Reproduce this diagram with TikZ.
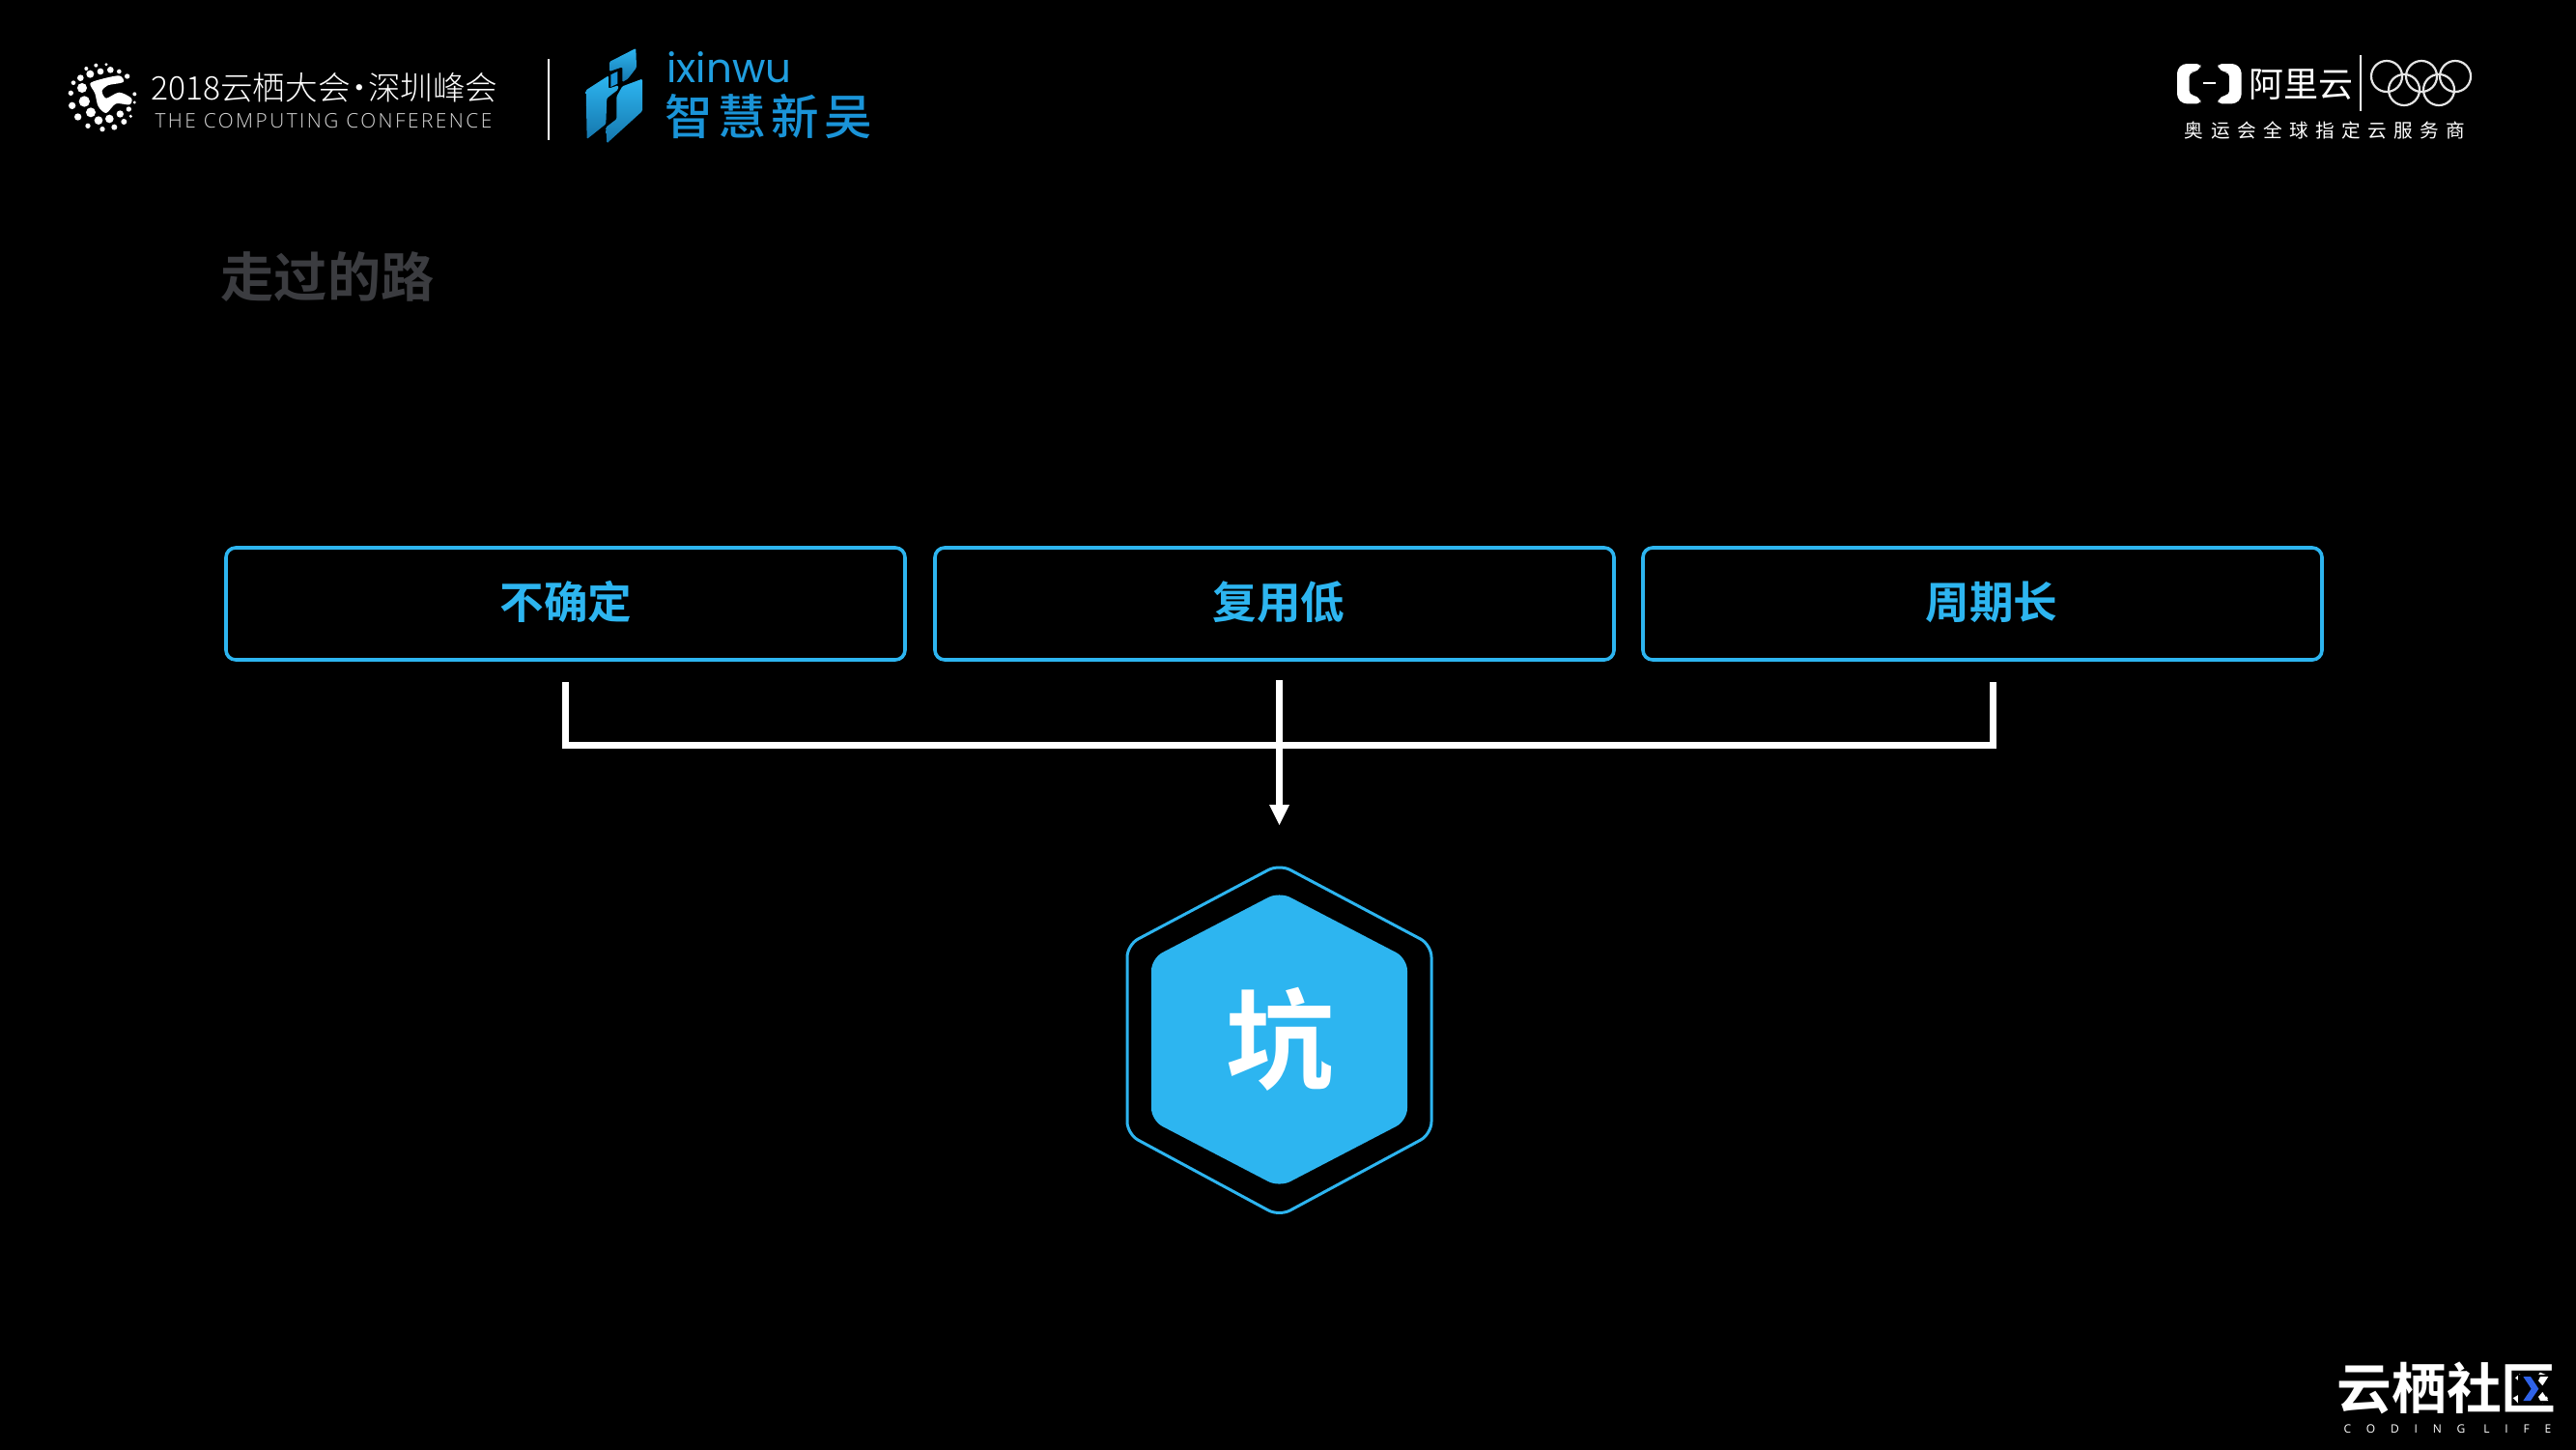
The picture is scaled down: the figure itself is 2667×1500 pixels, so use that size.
\documentclass[tikz,border=0pt]{standalone}
\usepackage{fontspec}
\setmainfont{Noto Sans CJK SC}
\newfontfamily\pLight{Noto Sans CJK SC Light}
\newfontfamily\pMedium{Noto Sans CJK SC Medium}
\newfontfamily\pBold{Noto Sans CJK SC Bold}
\newfontfamily\pLatin{Open Sans Light}
\newfontfamily\pPlain{Open Sans}
\newfontfamily\pGeo{Poppins}
\definecolor{pBlue}{HTML}{2DB5F0}
\definecolor{pDeep}{HTML}{1A94D8}
\definecolor{pChevron}{HTML}{2F62E8}
\definecolor{pTitle}{HTML}{3B3C40}
\tikzset{
  pBox/.style={draw=pBlue, line width=0.9pt, rounded corners=2.5pt},
  pLine/.style={draw=white, line width=1.75pt},
  pLabel/.style={inner sep=0pt, text=pBlue, font=\pBold\fontsize{11.4}{11.4}\selectfont},
  pText/.style={inner sep=0pt, text=white},
  pShard/.style={top color=#1, bottom color=pDeep!80!black, rounded corners=0.3pt},
  pZoom/.style={x=0.08333pt, y=-0.08333pt},
}
\begin{document}
\begin{tikzpicture}[x=0.25pt,y=-0.25pt]
\useasboundingbox (0,0) rectangle (2667,1500);
\fill[black] (-5,-5) rectangle (2672,1505);
% title
\node[inner sep=0pt, text=pTitle, font=\pBold\fontsize{13.8}{13.8}\selectfont] (title) at (339,287) {走过的路};
% three boxes
\draw[pBox] (234,567) rectangle (937,683);
\draw[pBox] (968,567) rectangle (1671,683);
\draw[pBox] (1701,567) rectangle (2404,683);
\node[pLabel] (boxA) at (586,623) {不确定};
\node[pLabel] (boxB) at (1324,623) {复用低};
\node[pLabel] (boxC) at (2062,623) {周期长};
% connectors
\coordinate (startA) at (585,706);
\coordinate (startB) at (1324.5,704);
\coordinate (startC) at (2063,706);
\coordinate (joinA) at (585,771);
\coordinate (joinC) at (2063,771);
\coordinate (arrowEnd) at (1324.5,854);
\draw[pLine] (startA) -- (joinA) -- (joinC) -- (startC);
\draw[pLine] (startB) -- (1324.5,834);
\fill[white] (arrowEnd) -- (1314,833) -- (1335,833) -- cycle;
% hexagon
\draw[draw=pBlue, line width=0.75pt, rounded corners=3.2pt] (1324.5,894.5) -- (1482,978) -- (1482,1174) -- (1324.5,1259) -- (1167,1174) -- (1167,978) -- cycle;
\fill[pBlue, rounded corners=3.2pt] (1324.5,923) -- (1457,992) -- (1457,1160) -- (1324.5,1229) -- (1192,1160) -- (1192,992) -- cycle;
\node[pText, font=\pBold\fontsize{28}{28}\selectfont] (pit) at (1325,1076) {坑};
% header, left
\begin{scope}[shift={(60,55)},pZoom]
\foreach \zx/\zy/\zr in {118/38/6,150/35/5,88/48/6,163/52/10,132/57/10,190/57/7,215/72/8,100/65/12,70/77/10,48/92/7,75/108/15,40/124/8,82/150/17,44/163/11,102/184/15,62/198/11,126/209/13,160/204/13,193/189/11,220/174/8,238/127/6,238/153/5,226/196/5,205/213/9,175/230/9,138/236/8,93/226/8}{
  \fill[white] (\zx,\zy) circle (\zr);
}
\fill[white] plot[smooth cycle, tension=0.5] coordinates {(100,95) (130,82) (190,70) (203,90) (155,100) (137,118) (150,140) (190,122) (228,140) (222,160) (180,157) (150,186) (125,165) (115,125)};
\end{scope}
\node[pText, font=\pLight\fontsize{8.4}{8.4}\selectfont] (confName) at (336,91) {2018云栖大会\kern-1.9pt·\kern-1.9pt深圳峰会};
\node[pText, text=white!85!black, font=\pLatin\fontsize{5.2}{5.2}\selectfont\addfontfeature{LetterSpace=12}] (confSub) at (335,125) {THE COMPUTING CONFERENCE};
\coordinate (sepTop) at (567.5,61);
\coordinate (sepEnd) at (567.5,145);
\draw[white, line width=0.5pt] (sepTop) -- (sepEnd);
\begin{scope}[shift={(595,40)},pZoom]
\shade[pShard=pBlue] (108,72) -- (190,30) -- (192,90) -- (165,125) -- (148,135) -- (148,88) -- (108,102) -- cycle;
\fill[pDeep] (112,112) -- (133,102) -- (133,140) -- (112,150) -- cycle;
\shade[pShard=pBlue] (35,160) -- (105,115) -- (105,155) -- (135,145) -- (135,158) -- (100,185) -- (97,265) -- (38,312) -- cycle;
\shade[pShard=pBlue] (148,148) -- (210,125) -- (210,225) -- (100,325) -- (97,275) -- (130,250) -- (130,180) -- cycle;
\end{scope}
\node[pText, text=pDeep!70!pBlue, font=\pGeo\fontsize{10.5}{10.5}\selectfont] (brandEn) at (755,70) {ixinwu};
\node[pText, text=pDeep, font=\pMedium\fontsize{12.4}{12.4}\selectfont\addfontfeature{LetterSpace=11}] (brandCn) at (796,121) {智慧新吴};
% header, right
\begin{scope}[shift={(2200,30)},pZoom]
\fill[white, rounded corners=1pt] (235,108) -- (180,108) -- (162,126) -- (162,214) -- (180,232) -- (235,232) -- (235,218) -- (215,205) -- (200,205) -- (200,135) -- (215,135) -- (235,122) -- cycle;
\fill[white, rounded corners=1pt] (289,108) -- (344,108) -- (362,126) -- (362,214) -- (344,232) -- (289,232) -- (289,218) -- (309,205) -- (324,205) -- (324,135) -- (309,135) -- (289,122) -- cycle;
\end{scope}
\draw[white, line width=0.5pt] (2281,86) -- (2294,86);
\node[pText, font=\fontsize{9}{9}\selectfont] (aliName) at (2382,88) {阿里云};
\draw[white, line width=0.4pt] (2444,57) -- (2444,115);
\foreach \cx/\cy in {2471/79, 2507/79, 2542/79, 2489/93, 2525/93}{
  \draw[white!90!black, line width=0.55pt] (\cx,\cy) circle (16);
}
\node[pText, font=\fontsize{4.9}{4.9}\selectfont\addfontfeature{LetterSpace=38}] (aliSub) at (2407,135) {奥运会全球指定云服务商};
% footer
\node[pText, font=\pBold\fontsize{14.2}{14.2}\selectfont] (footName) at (2533,1437) {云栖社区};
\fill[black] (2607,1423) rectangle (2636,1452);
\begin{scope}[shift={(2380,1390)},pZoom]
\fill[pChevron] (697,105) -- (720,105) -- (745,143) -- (720,180) -- (697,180) -- (722,143) -- cycle;
\fill[white] (750,105) -- (775,105) -- (757,133) -- (744,118) -- cycle;
\fill[white] (744,168) -- (757,153) -- (775,180) -- (750,180) -- cycle;
\end{scope}
\node[pText, font=\pPlain\fontsize{3}{3}\selectfont\addfontfeature{LetterSpace=132}] (footSub) at (2534,1479) {CODING LIFE};
\end{tikzpicture}
\end{document}
